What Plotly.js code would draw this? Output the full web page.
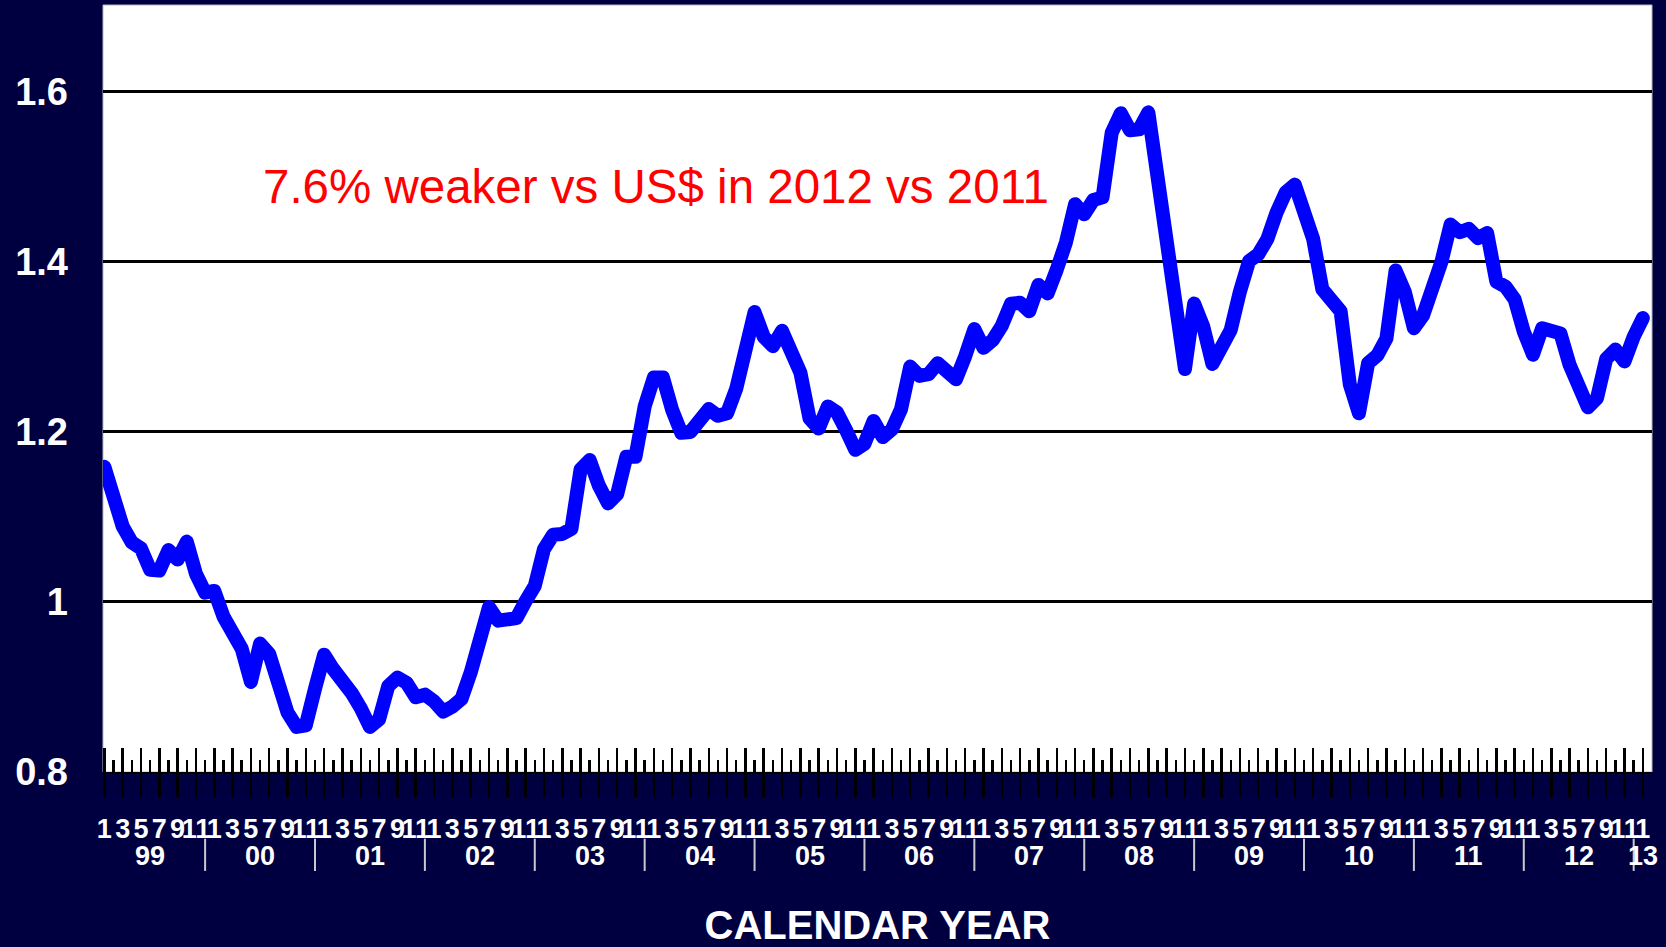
<!DOCTYPE html>
<html>
<head>
<meta charset="utf-8">
<script src="https://cdn.plot.ly/plotly-3.0.1.min.js"></script>
<style>
  html, body { margin: 0; padding: 0; background: #000040; }
  #chart { width: 1666px; height: 947px; }
  path.js-line { stroke-linejoin: round !important; stroke-linecap: round !important; }
</style>
</head>
<body>
<div id="chart"></div>
<script>
// Monthly EUR/USD (US$ per euro), Jan 1999 – Jan 2013
const eur1999 = [1.159, 1.120, 1.089, 1.070, 1.063, 1.038, 1.037, 1.061, 1.050, 1.071, 1.033, 1.011];
const eur2000 = [1.013, 0.983, 0.964, 0.945, 0.906, 0.951, 0.939, 0.905, 0.870, 0.853, 0.855, 0.898];
const eur2001 = [0.938, 0.921, 0.908, 0.893, 0.875, 0.853, 0.862, 0.901, 0.911, 0.905, 0.888, 0.891];
const eur2002 = [0.883, 0.871, 0.877, 0.886, 0.917, 0.956, 0.994, 0.978, 0.981, 0.981, 1.001, 1.019];
const eur2003 = [1.062, 1.079, 1.080, 1.086, 1.156, 1.167, 1.137, 1.116, 1.127, 1.171, 1.171, 1.230];
const eur2004 = [1.264, 1.264, 1.226, 1.199, 1.200, 1.215, 1.227, 1.219, 1.222, 1.251, 1.300, 1.341];
const eur2005 = [1.312, 1.301, 1.319, 1.294, 1.270, 1.216, 1.204, 1.230, 1.223, 1.202, 1.179, 1.186];
const eur2006 = [1.213, 1.194, 1.203, 1.227, 1.277, 1.266, 1.268, 1.281, 1.272, 1.262, 1.289, 1.321];
const eur2007 = [1.299, 1.308, 1.325, 1.351, 1.352, 1.342, 1.373, 1.363, 1.391, 1.423, 1.468, 1.456];
const eur2008 = [1.473, 1.476, 1.552, 1.575, 1.555, 1.556, 1.576, 1.496, 1.434, 1.327, 1.274, 1.351];
const eur2009 = [1.324, 1.280, 1.305, 1.320, 1.365, 1.401, 1.409, 1.427, 1.458, 1.482, 1.491, 1.458];
const eur2010 = [1.427, 1.368, 1.357, 1.342, 1.256, 1.222, 1.281, 1.290, 1.310, 1.390, 1.365, 1.322];
const eur2011 = [1.337, 1.366, 1.400, 1.444, 1.435, 1.439, 1.428, 1.434, 1.377, 1.371, 1.356, 1.318];
const eur2012 = [1.291, 1.322, 1.320, 1.316, 1.279, 1.253, 1.229, 1.240, 1.286, 1.297, 1.283, 1.312];
const eur2013 = [1.334];

const monthLabels = ['1', '3', '5', '7', '9', '11'];
const yearLabels = ['99', '00', '01', '02', '03', '04', '05', '06', '07', '08', '09', '10', '11', '12', '13'];
const yTicks = [0.8, 1, 1.2, 1.4, 1.6];
const noteText = '7.6% weaker vs US$ in 2012 vs 2011';
const axisTitle = 'CALENDAR YEAR';

const series = [].concat(eur1999, eur2000, eur2001, eur2002, eur2003, eur2004, eur2005,
  eur2006, eur2007, eur2008, eur2009, eur2010, eur2011, eur2012, eur2013);
const idx = series.map((v, i) => i);
const majorVals = idx.filter(i => i % 2 === 0);
const majorText = majorVals.map(i => monthLabels[(i % 12) / 2]);

const FONT = 'Liberation Sans, Arial, Helvetica, sans-serif';
const XR = [-0.15, 169];
const NAVY = '#000040';

const traces = [
  {
    x: idx, y: series, type: 'scatter', mode: 'lines',
    line: { color: '#0000ff', width: 14 },
    hoverinfo: 'skip', showlegend: false
  },
  {
    x: idx, y: series, type: 'scatter', mode: 'lines', xaxis: 'x2', yaxis: 'y',
    line: { color: 'rgba(0,0,0,0)', width: 0 }, opacity: 0,
    hoverinfo: 'skip', showlegend: false
  }
];

const annotations = [];
const shapes = [];
yearLabels.forEach((lab, k) => {
  const isLast = k === yearLabels.length - 1;
  annotations.push({
    x: isLast ? 12 * k : 12 * k + 5, xref: 'x',
    y: -0.110, yref: 'paper',
    text: lab, showarrow: false, xanchor: 'center', yanchor: 'middle',
    font: { family: FONT, size: 27, color: '#ffffff', weight: 700 }
  });
  if (!isLast) {
    shapes.push({
      type: 'line', xref: 'x', yref: 'paper',
      x0: 12 * k + 11, x1: 12 * k + 11, y0: -0.087, y1: -0.129,
      line: { color: '#c8c8d0', width: 2 }
    });
  }
});
annotations.push({
  x: 0.357, xref: 'paper', y: 0.764, yref: 'paper',
  text: noteText, showarrow: false, xanchor: 'center', yanchor: 'middle',
  font: { family: FONT, size: 47.5, color: '#ff0000' }
});
shapes.push({
  type: 'rect', xref: 'paper', yref: 'paper', x0: 0, x1: 1, y0: 0, y1: 1,
  line: { color: '#b8b8c0', width: 1 }, layer: 'below'
});

const layout = {
  width: 1666, height: 947,
  paper_bgcolor: NAVY, plot_bgcolor: '#ffffff',
  margin: { l: 103, r: 14, t: 5, b: 174.5, pad: 0 },
  showlegend: false,
  font: { family: FONT, color: '#ffffff' },
  xaxis: {
    range: XR, fixedrange: true,
    tickmode: 'array', tickvals: majorVals, ticktext: majorText,
    ticks: 'inside', ticklen: 24, tickwidth: 2.5, tickcolor: '#000000',
    minor: { ticks: 'inside', tickmode: 'linear', tick0: 1, dtick: 2,
             ticklen: 12, tickwidth: 2.5, tickcolor: '#000000', showgrid: false },
    tickangle: 0, ticklabelstandoff: 32,
    tickfont: { family: FONT, size: 27, color: '#ffffff', weight: 700 },
    showgrid: false, zeroline: false,
    showline: true, linecolor: '#000000', linewidth: 2,
    title: { text: axisTitle, standoff: 70,
             font: { family: FONT, size: 40, color: '#ffffff', weight: 700 } },
    automargin: false
  },
  xaxis2: {
    overlaying: 'x', anchor: 'y', side: 'bottom',
    range: XR, fixedrange: true,
    tickmode: 'array', tickvals: majorVals,
    ticks: 'outside', ticklen: 24, tickwidth: 2.5, tickcolor: '#000000',
    showticklabels: false, showgrid: false, zeroline: false, showline: false
  },
  yaxis: {
    range: [0.8, 1.7023], fixedrange: true,
    tickmode: 'array', tickvals: yTicks,
    ticks: '', ticklabelstandoff: 34,
    tickfont: { family: FONT, size: 38, color: '#ffffff', weight: 700 },
    showgrid: true, gridcolor: '#000000', gridwidth: 3,
    zeroline: false, showline: false, automargin: false
  },
  annotations: annotations,
  shapes: shapes
};

Plotly.newPlot('chart', traces, layout, { staticPlot: true, displayModeBar: false });
</script>
</body>
</html>
